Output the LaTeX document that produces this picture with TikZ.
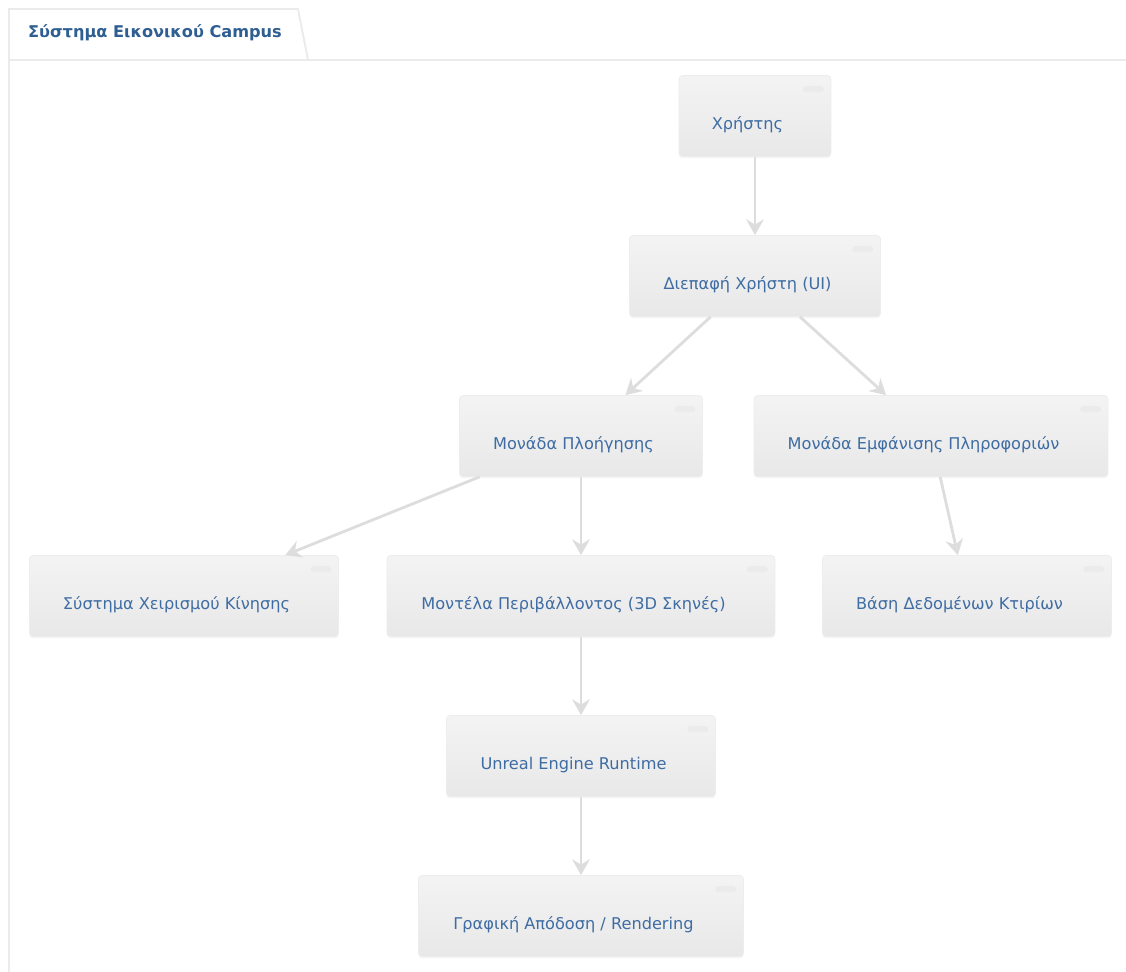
\documentclass[tikz,border=0pt]{standalone}
\usepackage{fontspec}
\setmainfont{DejaVu Sans}
\usepackage{tikz}
\usetikzlibrary{arrows.meta,shadows}
\definecolor{txtblue}{HTML}{3E6CA3}
\definecolor{ttlblue}{HTML}{2F5E92}
\definecolor{lnk}{HTML}{DDDDDD}
\definecolor{frm}{HTML}{EBEBEB}

\begin{document}
\begin{tikzpicture}[x=0.02cm,y=-0.02cm,
  box/.style={rounded corners=2pt,top color=gray!9,bottom color=gray!18,draw=gray!14,
    minimum height=1.62cm,text height=15pt,text depth=0pt,text=txtblue,
    font=\fontsize{9.2}{11}\selectfont,execute at end node={\hspace{8.5pt}},
    drop shadow={opacity=0.08,shadow xshift=0pt,shadow yshift=-1pt},
    path picture={\fill[gray!16] ([xshift=-4pt,yshift=-6pt]path picture bounding box.north east) rectangle ++(-12pt,-3.5pt);}},
  flow/.style={draw=lnk,line width=1.6pt,-{Stealth[length=9pt,width=10pt,inset=3pt]}}]
  \useasboundingbox (0,0) rectangle (1126,972);
  \fill[white] (0,0) rectangle (1126,972);
  \draw[frm,line width=1.1pt] (9,972)--(9,9)--(298,9)--(308,60)--(1126,60);
  \draw[frm,line width=1.1pt] (9,60)--(308,60);
  \node[text=ttlblue,font=\bfseries\fontsize{9.2}{11}\selectfont,anchor=west] (title) at (22,33) {Σύστημα Εικονικού Campus};

  \node[box,minimum width=3.04cm] (user) at (755,116) {Χρήστης};
  \node[box,minimum width=5.02cm] (ui) at (755,276) {Διεπαφή Χρήστη (UI)};
  \node[box,minimum width=4.86cm] (nav) at (581,436) {Μονάδα Πλοήγησης};
  \node[box,minimum width=7.08cm] (info) at (931,436) {Μονάδα Εμφάνισης Πληροφοριών};
  \node[box,minimum width=6.18cm] (move) at (184,596) {Σύστημα Χειρισμού Κίνησης};
  \node[box,minimum width=7.76cm] (env) at (581,596) {Μοντέλα Περιβάλλοντος (3D Σκηνές)};
  \node[box,minimum width=5.78cm] (db) at (967,596) {Βάση Δεδομένων Κτιρίων};
  \node[box,minimum width=5.38cm] (ue) at (581,756) {Unreal Engine Runtime};
  \node[box,minimum width=6.5cm] (render) at (581,916) {Γραφική Απόδοση / Rendering};

  \draw[flow] (user)--(ui);
  \draw[flow] (ui)--(nav);
  \draw[flow] (ui)--(info);
  \draw[flow] (nav)--(move);
  \draw[flow] (nav)--(env);
  \draw[flow] (info)--(db);
  \draw[flow] (env)--(ue);
  \draw[flow] (ue)--(render);
\end{tikzpicture}
\end{document}
